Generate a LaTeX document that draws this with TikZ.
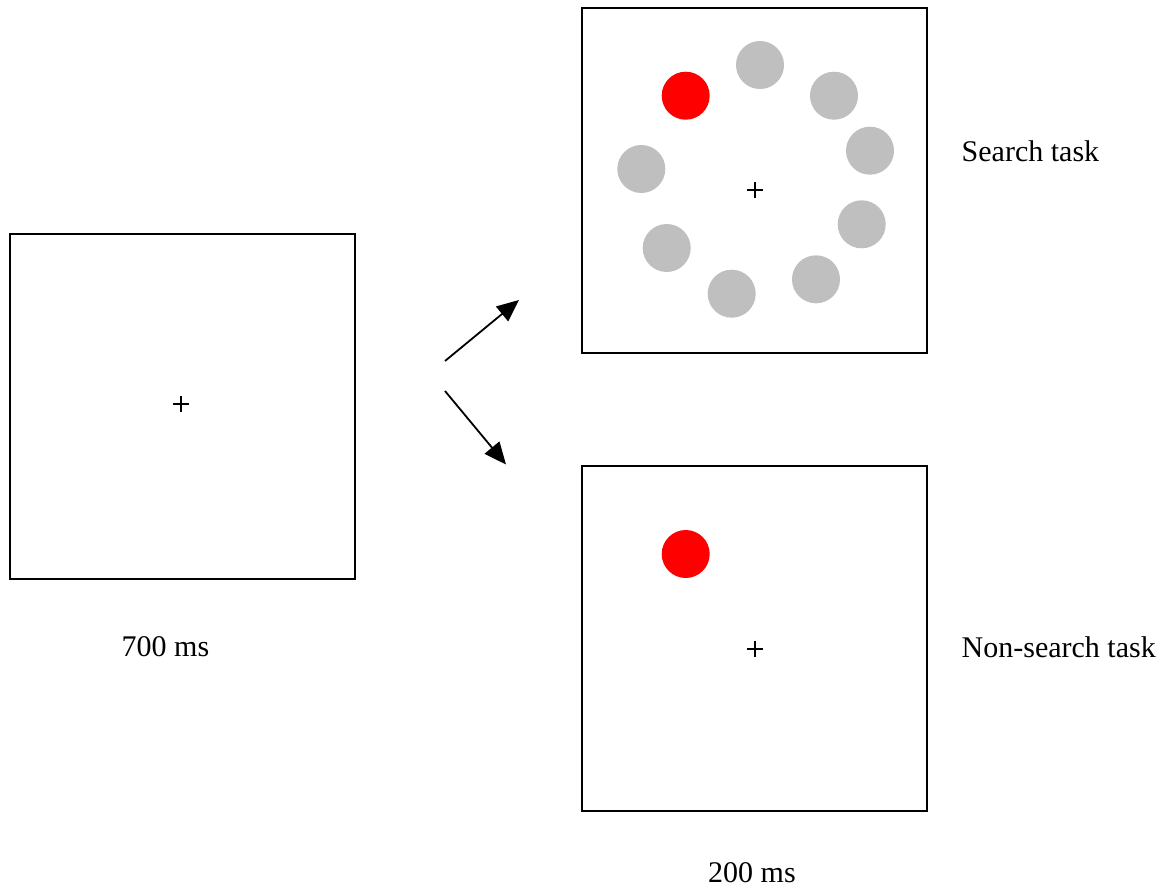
\documentclass[tikz,border=0pt]{standalone}
\usepackage{fontspec}
\setmainfont{Liberation Serif}
\usetikzlibrary{arrows.meta}
\begin{document}
\begin{tikzpicture}[x=1pt,y=-1pt,
  frame/.style={draw=black,line width=2pt,minimum size=345pt,inner sep=0pt,fill=white},
  disk/.style={circle,minimum size=48pt,inner sep=0pt,fill=gray!50!white},
  target/.style={circle,minimum size=48pt,inner sep=0pt,fill=red},
  lbl/.style={anchor=base west,inner sep=0pt,font=\fontsize{30}{36}\selectfont},
  fixcross/.style={line width=2pt},
  conn/.style={line width=1.8pt,-{Triangle[length=22pt,width=19pt]}}]
\useasboundingbox (0,0) rectangle (1172,894);
% frames
\node[frame] (left) at (182,406) {};
\node[frame] (top) at (754.5,180) {};
\node[frame] (bottom) at (754.5,638) {};
% fixation crosses
\foreach \cx/\cy/\n in {181/404/c1, 755/189.5/c2, 755/649/c3}{
  \coordinate (\n) at (\cx,\cy);
  \draw[fixcross] ([xshift=-8pt]\n) -- ([xshift=8pt]\n);
  \draw[fixcross] ([yshift=-8pt]\n) -- ([yshift=8pt]\n);
}
% search display
\node[target] (t1) at (685.7,95.7) {};
\node[disk] (d1) at (760,65) {};
\node[disk] (d2) at (834,95.7) {};
\node[disk] (d3) at (870,150.7) {};
\node[disk] (d4) at (861.7,224.3) {};
\node[disk] (d5) at (816,279.3) {};
\node[disk] (d6) at (731.7,293.7) {};
\node[disk] (d7) at (666.7,248) {};
\node[disk] (d8) at (641.3,169) {};
% non-search display
\node[target] (t2) at (685.7,554) {};
% arrows
\coordinate (a1s) at (445,361);
\coordinate (a1e) at (519,300);
\coordinate (a2s) at (445,391);
\coordinate (a2e) at (506,464.5);
\draw[conn] (a1s) -- (a1e);
\draw[conn] (a2s) -- (a2e);
% labels
\node[lbl] (l700) at (121.5,656) {700 ms};
\node[lbl] (l200) at (708,882) {200 ms};
\node[lbl] (ls) at (961.5,161.5) {Search task};
\node[lbl] (lns) at (961.5,657.5) {Non-search task};
\end{tikzpicture}
\end{document}
